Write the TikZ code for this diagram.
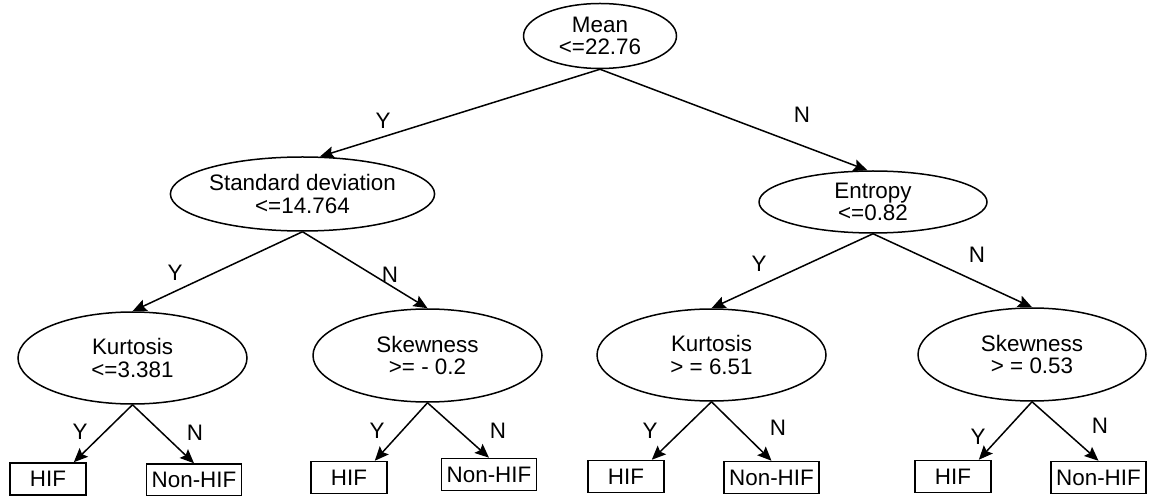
\documentclass[tikz,border=0pt]{standalone}
\usepackage{fontspec}
\setmainfont{Liberation Sans}
\usetikzlibrary{arrows.meta,shapes.geometric}
\tikzset{test/.style={draw,ellipse,line width=0.75pt,inner sep=0pt,align=center},
leaf/.style={draw,rectangle,line width=0.75pt,minimum height=16pt,minimum width=38pt,inner xsep=2.5pt,inner ysep=0pt},
branch/.style={line width=0.75pt,-{Stealth[length=7pt,width=6pt,inset=1.2pt]}}}
\begin{document}
\begin{tikzpicture}[x=0.5pt,y=-0.5pt,font=\fontsize{11.2pt}{11.4pt}\selectfont]
\useasboundingbox (0,0) rectangle (1149,496);
% decision nodes
\node[test,minimum width=76.5pt,minimum height=32.5pt] (root) at (600,36) {Mean\\<=22.76};
\node[test,minimum width=114.5pt,minimum height=37pt] (sd) at (302.5,194) {Standard deviation\\<=14.764};
\node[test,minimum width=114pt,minimum height=31pt] (en) at (873,202) {Entropy\\<=0.82};
\node[test,minimum width=114.5pt,minimum height=46pt] (kurtA) at (132.5,358) {Kurtosis\\<=3.381};
\node[test,minimum width=114.5pt,minimum height=46.5pt] (skewA) at (427.5,355.5) {Skewness\\>= - 0.2};
\node[test,minimum width=114.5pt,minimum height=46pt] (kurtB) at (711.5,355) {Kurtosis\\> = 6.51};
\node[test,minimum width=114pt,minimum height=46.5pt] (skewB) at (1032,354.5) {Skewness\\> = 0.53};
% leaves
\node[leaf] (hifA) at (48,479) {HIF};\node[leaf] (nonA) at (194,480) {Non-HIF};
\node[leaf] (hifB) at (349,477.5) {HIF};\node[leaf] (nonB) at (489,474.5) {Non-HIF};
\node[leaf] (hifC) at (626,476.5) {HIF};\node[leaf] (nonC) at (771.5,477.5) {Non-HIF};
\node[leaf] (hifD) at (953,476.5) {HIF};\node[leaf] (nonD) at (1098.5,477.5) {Non-HIF};
% branches
\draw[branch] (root.south)--(sd.65);\draw[branch] (root.south)--(en.100);
\draw[branch] (sd.south)--(kurtA.north);\draw[branch] (sd.south)--(skewA.north);
\draw[branch] (en.south)--(kurtB.north);\draw[branch] (en.south)--(skewB.north);
\draw[branch] (kurtA.south)--(hifA.33);\draw[branch] (kurtA.south)--(nonA.north);
\draw[branch] (skewA.south)--(hifB.33);\draw[branch] (skewA.south)--(nonB.north);
\draw[branch] (kurtB.south)--(hifC.33);\draw[branch] (kurtB.south)--(nonC.north);
\draw[branch] (skewB.south)--(hifD.33);\draw[branch] (skewB.south)--(nonD.north);
% answers
\node (y0) at (383,121){Y};\node (n0) at (802,115){N};
\node (y1) at (175,273){Y};\node (n1) at (390,275){N};
\node (y2) at (759,264){Y};\node (n2) at (977,255){N};
\node (y3) at (80,432){Y};\node (n3) at (195,433){N};
\node (y4) at (377,431){Y};\node (n4) at (498,431){N};
\node (y5) at (650,431){Y};\node (n5) at (778,428){N};
\node (y6) at (978,437){Y};\node (n6) at (1100,426){N};
\end{tikzpicture}
\end{document}
